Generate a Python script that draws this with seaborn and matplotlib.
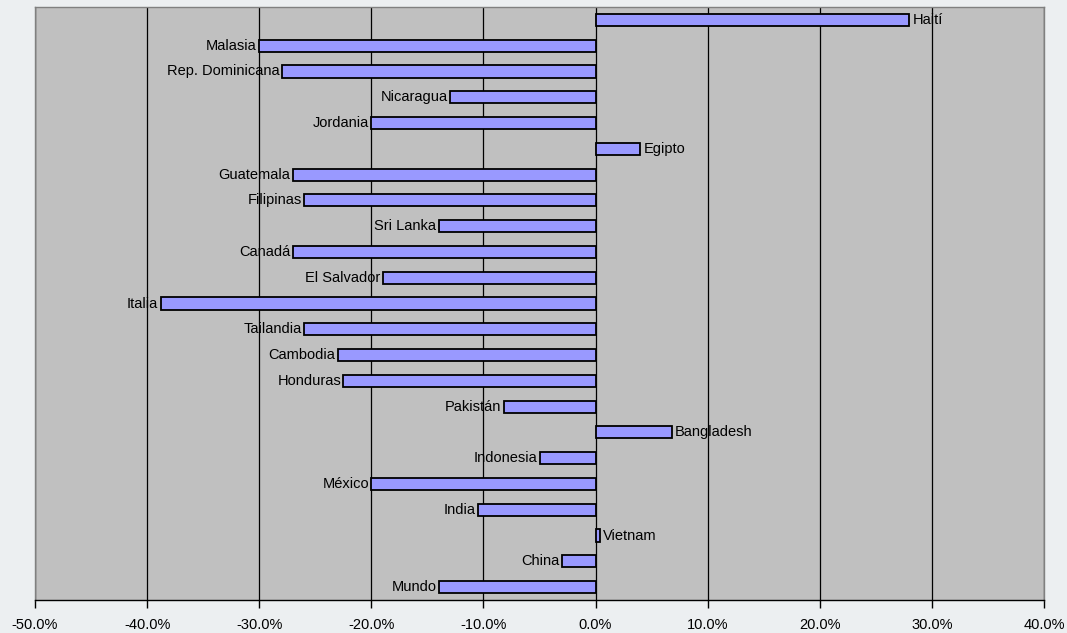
import numpy as np
import pandas as pd
import seaborn as sns
import matplotlib.pyplot as plt
from matplotlib.ticker import FuncFormatter, MultipleLocator

paises = ['Haití', 'Malasia', 'Rep. Dominicana', 'Nicaragua', 'Jordania', 'Egipto',
          'Guatemala', 'Filipinas', 'Sri Lanka', 'Canadá', 'El Salvador', 'Italia',
          'Tailandia', 'Cambodia', 'Honduras', 'Pakistán', 'Bangladesh', 'Indonesia',
          'México', 'India', 'Vietnam', 'China', 'Mundo']
variacion = [0.28, -0.30, -0.28, -0.13, -0.20, 0.04,
             -0.27, -0.26, -0.14, -0.27, -0.19, -0.388,
             -0.26, -0.23, -0.225, -0.082, 0.068, -0.05,
             -0.20, -0.105, 0.004, -0.03, -0.14]

df = pd.DataFrame({'pais': paises, 'variacion': variacion})

sns.set_style('white', {'text.color': 'black', 'xtick.color': 'black'})
plt.rcParams['font.family'] = ['Liberation Sans', 'DejaVu Sans']

fig = plt.figure(figsize=(10.67, 6.33), dpi=100)
fig.patch.set_facecolor('#eceff1')
ax = fig.add_axes([35 / 1067, 1 - 600 / 633, (1044 - 35) / 1067, (600 - 7) / 633])
ax.set_facecolor('#c0c0c0')

sns.barplot(data=df, x='variacion', y='pais', color='#9999ff', saturation=1,
            edgecolor='black', linewidth=1.3, width=0.47, ax=ax, zorder=3)

ax.set_xlim(-0.5, 0.4)
ax.set_ylim(len(paises) - 0.5, -0.5)
ax.xaxis.set_major_locator(MultipleLocator(0.1))
ax.xaxis.set_major_formatter(FuncFormatter(lambda v, p: f'{v * 100:.1f}%'))
ax.grid(axis='x', color='black', linewidth=0.9, zorder=0)
ax.grid(axis='y', visible=False)
ax.set_axisbelow(True)
ax.set_xlabel('')
ax.set_ylabel('')
ax.set_yticks([])
ax.tick_params(axis='x', direction='out', length=6, width=1, color='black',
               labelcolor='black', labelsize=10.5, pad=7, bottom=True)

for side in ['top', 'left', 'right']:
    ax.spines[side].set_color('#808080')
    ax.spines[side].set_linewidth(1)
ax.spines['bottom'].set_color('black')
ax.spines['bottom'].set_linewidth(1)

for i, (p, v) in enumerate(zip(paises, variacion)):
    if v < 0:
        ax.text(v - 0.002, i, p, ha='right', va='center', fontsize=10.5,
                color='black', zorder=5)
    else:
        ax.text(v + 0.003, i, p, ha='left', va='center', fontsize=10.5,
                color='black', zorder=5)

fig.savefig('out.png', dpi=100, facecolor=fig.get_facecolor())
